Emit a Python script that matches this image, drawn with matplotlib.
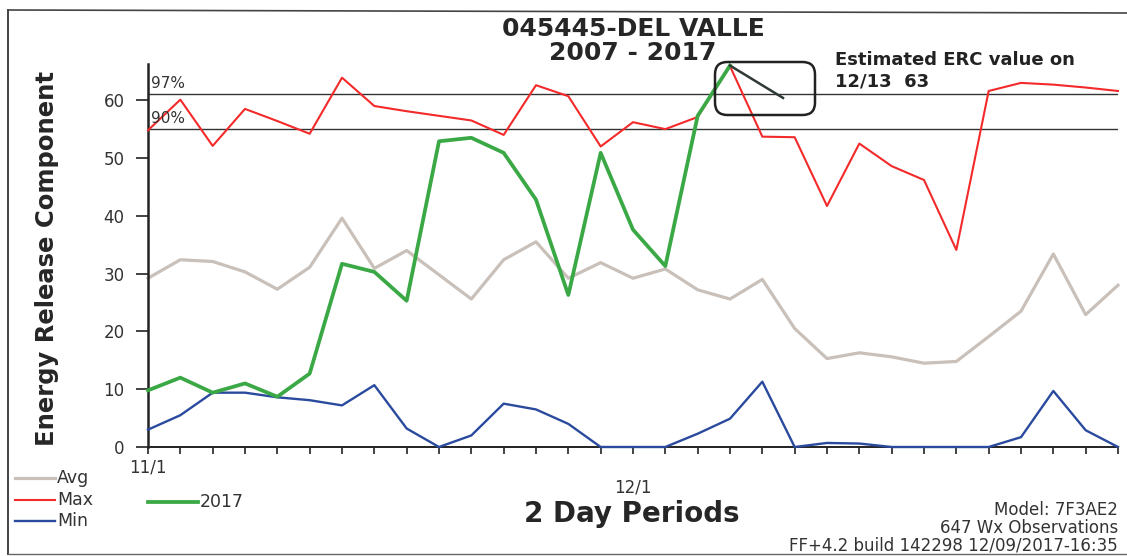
import numpy as np
import matplotlib
matplotlib.use("Agg")
import matplotlib.pyplot as plt
from matplotlib.lines import Line2D
from matplotlib.patches import FancyBboxPatch

W, H = 1127, 556

# 2-day periods from 11/1 to 12/31
periods = np.arange(31)
avg = [29.2, 32.4, 32.1, 30.3, 27.3, 31.1, 39.6, 30.9, 34.0, 29.8, 25.6,
       32.4, 35.5, 29.2, 31.9, 29.2, 30.8, 27.2, 25.6, 29.0, 20.5,
       15.3, 16.3, 15.6, 14.5, 14.8, 19.1, 23.5, 33.4, 22.9, 28.0]
max_erc = [54.8, 60.1, 52.1, 58.5, 56.4, 54.2, 63.9, 59.0, 58.1, 57.3, 56.5,
           54.0, 62.6, 60.7, 52.0, 56.2, 55.0, 57.1, 65.9, 53.7, 53.6,
           41.7, 52.5, 48.6, 46.2, 34.1, 61.6, 63.0, 62.7, 62.2, 61.6]
min_erc = [3.0, 5.5, 9.4, 9.4, 8.6, 8.1, 7.2, 10.7, 3.2, 0.0, 2.0,
           7.5, 6.5, 4.0, 0.0, 0.0, 0.0, 2.3, 4.9, 11.3, 0.0,
           0.7, 0.6, 0.0, 0.0, 0.0, 0.0, 1.7, 9.7, 2.9, 0.0]
erc_2017 = [9.8, 12.0, 9.4, 11.0, 8.7, 12.7, 31.7, 30.3, 25.3, 52.9, 53.5,
            50.9, 42.8, 26.3, 50.9, 37.6, 31.3, 57.3, 66.0]
est_x = [18, 19.64]
est_y = [66.0, 60.4]

pct_97 = 61.1
pct_90 = 55.1

yticks = [0, 10, 20, 30, 40, 50, 60]
date_labels = ["11/1", "12/1"]
date_pos = [0, 15]


def fx(px):
    return px / W


def fy(py):
    return 1 - py / H


fig = plt.figure(figsize=(W / 100, H / 100), dpi=100)
fig.patch.set_facecolor("white")
ax_h = 382.6
ax = fig.add_axes([fx(148), fy(447), 970 / W, ax_h / H])

ax.plot(periods, avg, color="#c9c0ba", lw=2.3, zorder=2, clip_on=False)
ax.plot(periods, max_erc, color="#f42a2a", lw=1.5, zorder=3, clip_on=False)
ax.plot(periods, min_erc, color="#2a4a9e", lw=1.7, zorder=4, clip_on=False)
ax.plot(periods[:len(erc_2017)], erc_2017, color="#3aa845", lw=2.7,
        zorder=5, clip_on=False)
ax.plot(est_x, est_y, color="#2f3a35", lw=1.8, zorder=6, clip_on=False)

ax.axhline(pct_97, color="#333333", lw=1.0, zorder=1)
ax.axhline(pct_90, color="#333333", lw=1.0, zorder=1)
ax.text(0.1, pct_97 + 0.5, "97%", fontsize=11, color="#333333",
        va="bottom", ha="left")
ax.text(0.1, pct_90 + 0.5, "90%", fontsize=11, color="#333333",
        va="bottom", ha="left")

ax.set_xlim(0, 30)
ax.set_ylim(0, 66.2)
ax.set_xticks(periods)
ax.set_xticklabels([])
ax.set_yticks(yticks)
ax.set_yticklabels([str(v) for v in yticks], fontsize=12, color="#333333")
ax.tick_params(axis="x", direction="out", length=5, width=1.2, color="#222222")
ax.tick_params(axis="y", direction="out", length=9, width=1.2, color="#222222",
               pad=8)
for s in ["top", "right"]:
    ax.spines[s].set_visible(False)
ax.spines["left"].set_linewidth(1.8)
ax.spines["bottom"].set_linewidth(1.4)
ax.spines["left"].set_color("#222222")
ax.spines["bottom"].set_color("#222222")

# date labels under the axis, 12/1 sits lower in the original
date_drop = [20, 40]
for pos, lab, drop in zip(date_pos, date_labels, date_drop):
    ax.text(pos / 30, -drop / ax_h, lab, transform=ax.transAxes,
            fontsize=12, color="#333333", ha="center", va="center")

# titles and labels
fig.text(fx(633), fy(29), "045445-DEL VALLE", fontsize=18, fontweight="bold",
         color="#262626", ha="center", va="center")
fig.text(fx(633), fy(53), "2007 - 2017", fontsize=18, fontweight="bold",
         color="#262626", ha="center", va="center")
fig.text(fx(47), fy(258), "Energy Release Component", fontsize=17.5,
         fontweight="bold", color="#262626", rotation=90,
         ha="center", va="center")
fig.text(fx(632), fy(514), "2 Day Periods", fontsize=20, fontweight="bold",
         color="#262626", ha="center", va="center")
fig.text(fx(835), fy(60), "Estimated ERC value on", fontsize=13,
         fontweight="bold", color="#222222", ha="left", va="center")
fig.text(fx(835), fy(81), "12/13  63", fontsize=13,
         fontweight="bold", color="#222222", ha="left", va="center")

fig.text(fx(1118), fy(510), "Model: 7F3AE2", fontsize=12, color="#333333",
         ha="right", va="center")
fig.text(fx(1118), fy(528), "647 Wx Observations", fontsize=12,
         color="#333333", ha="right", va="center")
fig.text(fx(1118), fy(545), "FF+4.2 build 142298 12/09/2017-16:35",
         fontsize=12, color="#333333", ha="right", va="center")

# legend drawn by hand
legend_items = [("Avg", "#c9c0ba", 2.3, 15, 55, 478, 57),
                ("Max", "#f42a2a", 1.5, 15, 55, 500, 57),
                ("Min", "#2a4a9e", 1.7, 15, 55, 521, 57),
                ("2017", "#3aa845", 2.7, 148, 198, 502, 200)]
for label, col, lw, x0, x1, yy, tx in legend_items:
    fig.add_artist(Line2D([fx(x0), fx(x1)], [fy(yy), fy(yy)], color=col,
                          lw=lw, transform=fig.transFigure))
    fig.text(fx(tx), fy(yy), label, fontsize=12.5, color="#333333",
             ha="left", va="center")

# rounded box around the estimate
box = FancyBboxPatch((fx(715), fy(115)), fx(815) - fx(715), fy(62) - fy(115),
                     boxstyle="round,pad=0,rounding_size=0.011",
                     mutation_aspect=W / H, transform=fig.transFigure,
                     fill=False, ec="#222222", lw=1.8)
fig.add_artist(box)

# page frame
fig.add_artist(Line2D([fx(8), fx(1127)], [fy(10), fy(13)], color="#444444",
                      lw=1.2, transform=fig.transFigure))
fig.add_artist(Line2D([fx(8), fx(8)], [fy(10), fy(554)], color="#444444",
                      lw=1.4, transform=fig.transFigure))
fig.add_artist(Line2D([fx(8), fx(1127)], [fy(554), fy(554)], color="#666666",
                      lw=1.0, transform=fig.transFigure))

fig.savefig("out.png", dpi=100, facecolor="white")
